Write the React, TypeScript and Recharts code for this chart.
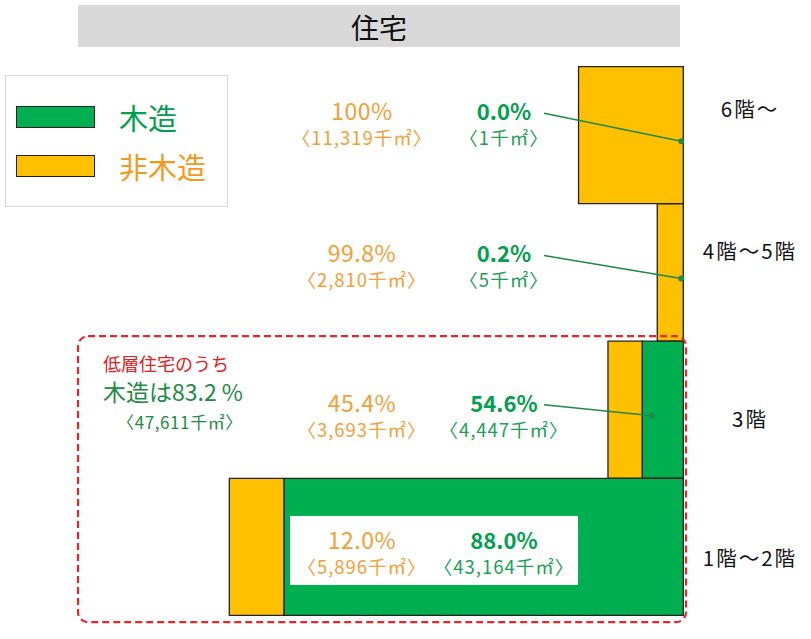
import { BarChart, Bar, XAxis, YAxis, LabelList, Legend } from 'recharts';

// floor area of housing starts, thousand m2
const floors = ['6階〜', '4階〜5階', '3階', '1階〜2階'];
const woodArea = [1, 5, 4447, 43164];
const nonWoodArea = [11319, 2810, 3693, 5896];
const lowRiseRows = [2, 3];

const data = floors.map((floor, i) => ({ floor, wood: woodArea[i], nonWood: nonWoodArea[i] }));

const GREEN = '#00B050';
const ORANGE = '#FFC000';
const GREEN_TEXT = '#00A04E';
const GREEN_SMALL = '#1E9E58';
const ORANGE_TEXT = '#F2A035';
const FONT = '"Noto Sans CJK JP", "Noto Sans", sans-serif';

const fmt = (v: number) => v.toLocaleString('en-US');
const pct = (part: number, total: number) => {
  const p = (part / total) * 100;
  return p >= 99.95 ? '100%' : `${p.toFixed(1)}%`;
};

const lowWood = lowRiseRows.reduce((s, i) => s + woodArea[i], 0);
const lowTotal = lowRiseRows.reduce((s, i) => s + woodArea[i] + nonWoodArea[i], 0);

const FloorTick = (props: any) => {
  const { y, payload, index } = props;
  const nudge = [-27, -23, 8, 10][index] ?? 0;
  return (
    <text x={750} y={y + nudge} textAnchor="middle" dominantBaseline="central"
      fontSize={20.5} letterSpacing={2} fill="#111" fontFamily={FONT}>
      {payload.value}
    </text>
  );
};

const RowNotes = (props: any) => {
  const vb = props.viewBox ?? props;
  const i = props.index;
  const left = Math.min(vb.x, vb.x + vb.width);
  const w = Math.abs(vb.width);
  const top = Math.min(vb.y, vb.y + vb.height);
  const h = Math.abs(vb.height);
  const cy = top + h / 2;
  const greenLeft = left + w;
  const greenW = (w * woodArea[i]) / nonWoodArea[i];
  const greenRight = greenLeft + greenW;
  const total = woodArea[i] + nonWoodArea[i];

  const pctY = cy + ([-25, -20, -8, -8][i] ?? 0);
  const valY = pctY + 27;
  const colO = 362;
  const colG = 504;
  const dotX = greenW > 20 ? greenLeft + 10 : greenRight - 2;
  const dotY = cy + 6;
  const onBar = left < 578;

  return (
    <g fontFamily={FONT}>
      {i === lowRiseRows[0] && (
        <g>
          <rect x={78} y={top - 5} width={608} height={h * lowRiseRows.length + 12} rx={10}
            fill="none" stroke="#E8262A" strokeWidth={2.2} strokeDasharray="7 4" />
          <text x={103} y={top + 22} fontSize={18} fill="#E0201E" dominantBaseline="central">低層住宅のうち</text>
          <text x={103} y={top + 50} fontSize={23} fill="#1E8A46" dominantBaseline="central">
            木造は{((lowWood / lowTotal) * 100).toFixed(1)} %
          </text>
          <text x={180} y={top + 80} fontSize={17} letterSpacing={0.6} fill="#1E8A46" textAnchor="middle" dominantBaseline="central">
            〈{fmt(lowWood)}千㎡〉
          </text>
        </g>
      )}
      {onBar && <rect x={290} y={cy - 31} width={288} height={69} fill="#fff" />}
      <text x={colO} y={pctY} fontSize={23} letterSpacing={0.5} fill={ORANGE_TEXT} textAnchor="middle" dominantBaseline="central">
        {pct(nonWoodArea[i], total)}
      </text>
      <text x={colO} y={valY} fontSize={18.5} letterSpacing={1} fill={ORANGE_TEXT} textAnchor="middle" dominantBaseline="central">
        〈{fmt(nonWoodArea[i])}千㎡〉
      </text>
      <text x={colG} y={pctY} fontSize={22} fontWeight="bold" fill={GREEN_TEXT} textAnchor="middle" dominantBaseline="central">
        {pct(woodArea[i], total)}
      </text>
      <text x={colG} y={valY} fontSize={18.5} letterSpacing={1} fill={GREEN_SMALL} textAnchor="middle" dominantBaseline="central">
        〈{fmt(woodArea[i])}千㎡〉
      </text>
      {!onBar && (
        <g>
          <line x1={colG + 40} y1={pctY + 3} x2={dotX} y2={dotY} stroke="#1E8A46" strokeWidth={1.5} />
          <circle cx={dotX} cy={dotY} r={3} fill="#1E8A46" />
        </g>
      )}
    </g>
  );
};

const LegendBox = () => (
  <div style={{ width: 223, height: 132, boxSizing: 'border-box', border: '1.5px solid #D9D9D9', background: '#fff', position: 'relative', fontFamily: FONT }}>
    <div style={{ position: 'absolute', left: 10, top: 30, width: 79, height: 22, background: GREEN, border: '1.2px solid #222', boxSizing: 'border-box' }} />
    <div style={{ position: 'absolute', left: 113, top: 24, fontSize: 29, lineHeight: '34px', color: GREEN_TEXT }}>木造</div>
    <div style={{ position: 'absolute', left: 10, top: 79, width: 79, height: 22, background: ORANGE, border: '1.2px solid #222', boxSizing: 'border-box' }} />
    <div style={{ position: 'absolute', left: 113, top: 73, fontSize: 29, lineHeight: '34px', color: '#F39A1E' }}>非木造</div>
  </div>
);

export default function App() {
  return (
    <div style={{ position: 'absolute', left: 0, top: 0, width: 811, height: 639, background: '#fff' }}>
      <div style={{ position: 'absolute', left: 78, top: 5, width: 602, height: 42, background: '#D9D9D9', fontFamily: FONT, fontSize: 28, lineHeight: '44px', textAlign: 'center', color: '#111' }}>
        住宅
      </div>
      <BarChart width={811} height={639} data={data} layout="vertical" barCategoryGap={0}
        margin={{ top: 66.7, right: 0, bottom: 23.3, left: 229.3 }}>
        <XAxis type="number" reversed hide domain={[0, 'dataMax']} />
        <YAxis type="category" dataKey="floor" orientation="right" width={127.7}
          axisLine={false} tickLine={false} tick={<FloorTick />} interval={0} />
        <Legend layout="horizontal" verticalAlign="middle" align="center"
          wrapperStyle={{ position: 'absolute', left: 5, top: 75, width: 223, height: 132 }}
          content={() => <LegendBox />} />
        <Bar dataKey="wood" name="木造" stackId="a" fill={GREEN} stroke="#222" strokeWidth={1.3} isAnimationActive={false} />
        <Bar dataKey="nonWood" name="非木造" stackId="a" fill={ORANGE} stroke="#222" strokeWidth={1.3} isAnimationActive={false}>
          <LabelList dataKey="nonWood" content={(p: any) => <RowNotes {...p} />} />
        </Bar>
      </BarChart>
    </div>
  );
}
